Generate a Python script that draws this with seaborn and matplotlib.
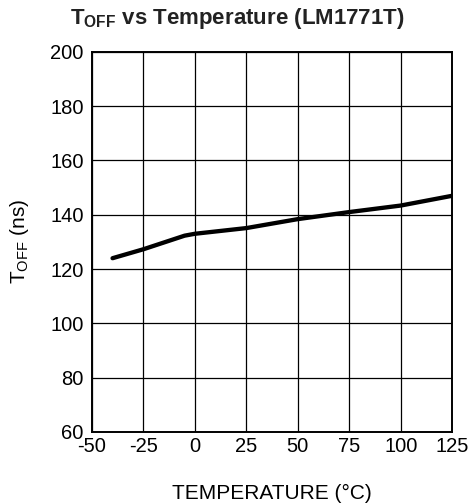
import matplotlib
matplotlib.use("Agg")
import matplotlib.pyplot as plt
import seaborn as sns
import pandas as pd

# Off-time vs junction temperature
temperature_c = [-40, -25, -5, 0, 25, 50, 75, 100, 125]
toff_ns = [124.0, 127.3, 132.3, 133.0, 135.1, 138.4, 141.0, 143.4, 147.0]

x_ticks = [-50, -25, 0, 25, 50, 75, 100, 125]
y_ticks = [60, 80, 100, 120, 140, 160, 180, 200]

sns.set_theme(style="white")
plt.rcParams["font.family"] = ["Liberation Sans", "DejaVu Sans"]
plt.rcParams["mathtext.fontset"] = "custom"
plt.rcParams["mathtext.rm"] = "Liberation Sans"
plt.rcParams["mathtext.it"] = "Liberation Sans"
plt.rcParams["mathtext.bf"] = "Liberation Sans:bold"

df = pd.DataFrame({"temp": temperature_c, "toff": toff_ns})

fig = plt.figure(figsize=(4.74, 5.04), dpi=100)
ax = fig.add_axes([0.194, 0.143, 0.760, 0.754])

sns.lineplot(data=df, x="temp", y="toff", ax=ax, color="black", linewidth=3.1)

ax.set_xlim(-50, 125)
ax.set_ylim(60, 200)
ax.set_xticks(x_ticks)
ax.set_yticks(y_ticks)
ax.set_xticklabels([str(v) for v in x_ticks], fontsize=14.5)
ax.set_yticklabels([str(v) for v in y_ticks], fontsize=14.5)
ax.tick_params(axis="x", length=0, pad=4, colors="black")
ax.tick_params(axis="y", length=0, pad=6, colors="black")

ax.grid(True, color="black", linewidth=0.9)
for s in ax.spines.values():
    s.set_color("black")
    s.set_linewidth(1.4)

ax.set_xlabel("TEMPERATURE (°C)", fontsize=15, color="black")
ax.xaxis.set_label_coords(0.5, -0.136)
ax.set_ylabel(r"T$_{\mathrm{OFF}}$ (ns)", fontsize=15, color="black")
ax.yaxis.set_label_coords(-0.168, 0.5)

fig.text(0.5, 0.963, r"$\mathbf{T_{OFF}}$ vs Temperature (LM1771T)",
         ha="center", va="center", fontsize=16, fontweight="bold", color="#222222")

fig.savefig("out.png", dpi=100)
